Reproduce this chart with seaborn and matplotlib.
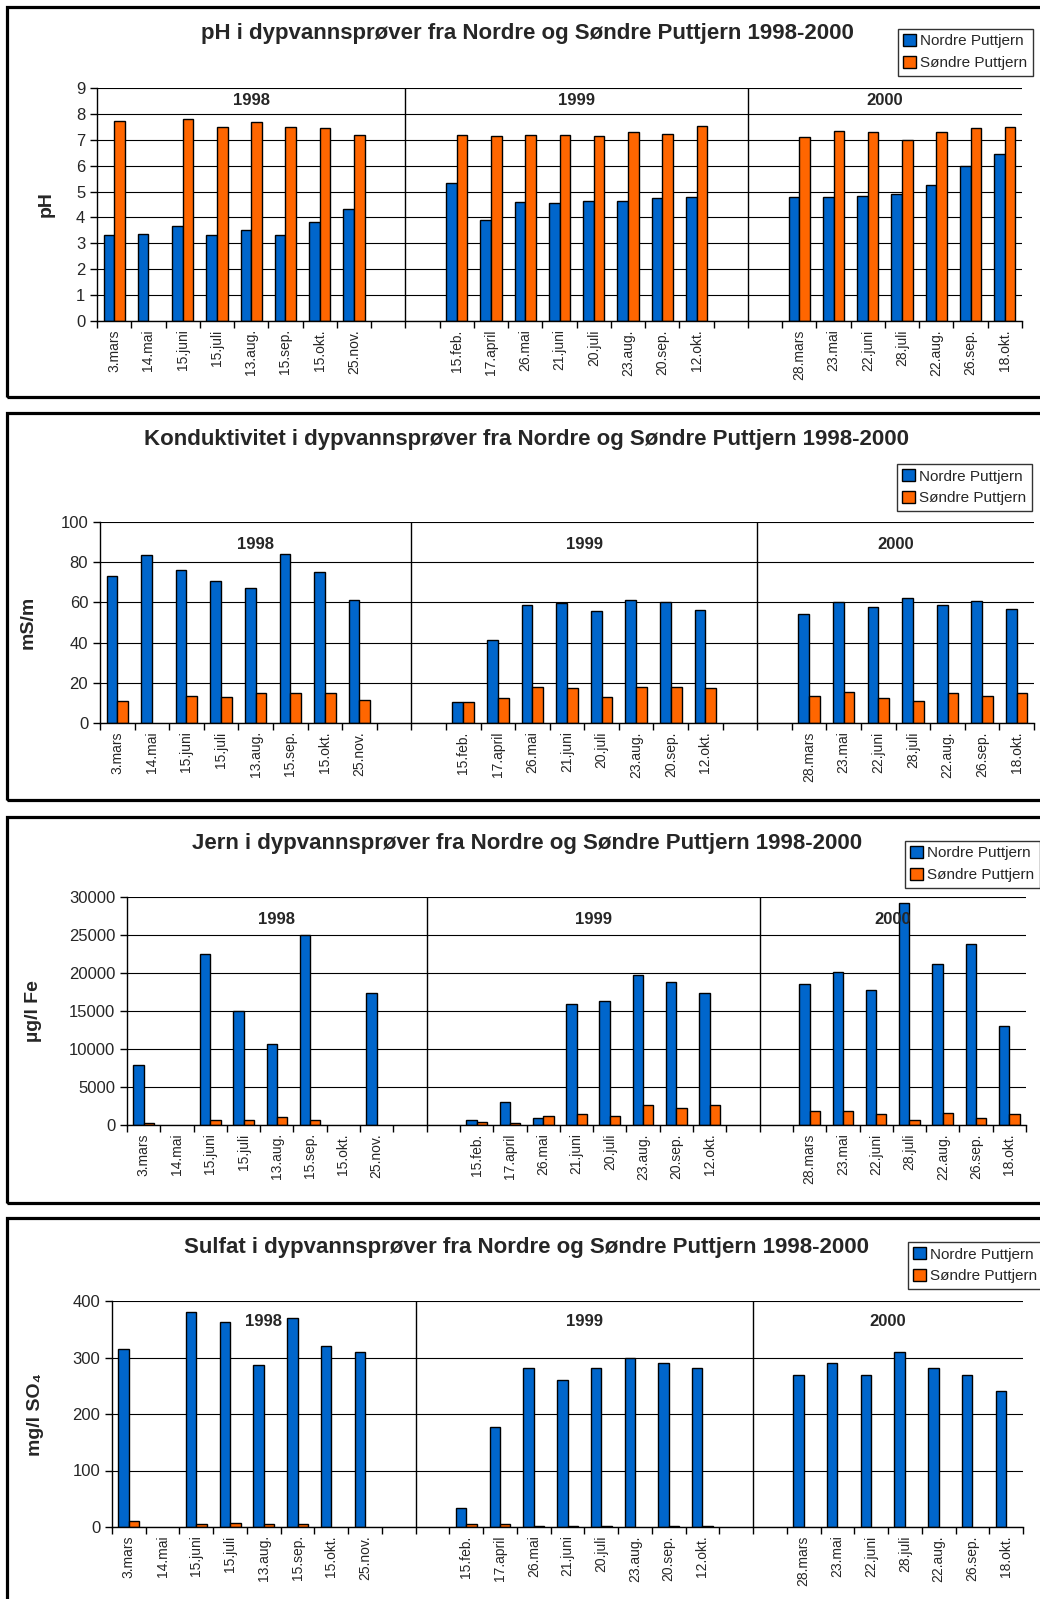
import numpy as np
import pandas as pd
import matplotlib.pyplot as plt
import seaborn as sns
from matplotlib.patches import Rectangle

# --- data ---
dates_1998 = ['3.mars', '14.mai', '15.juni', '15.juli', '13.aug.', '15.sep.', '15.okt.', '25.nov.']
dates_1999 = ['15.feb.', '17.april', '26.mai', '21.juni', '20.juli', '23.aug.', '20.sep.', '12.okt.']
dates_2000 = ['28.mars', '23.mai', '22.juni', '28.juli', '22.aug.', '26.sep.', '18.okt.']
years = ['1998', '1999', '2000']
lakes = ['Nordre Puttjern', 'Søndre Puttjern']
nan = np.nan

ph_nordre = [3.32, 3.36, 3.67, 3.32, 3.53, 3.32, 3.83, 4.33,
             5.33, 3.89, 4.59, 4.54, 4.64, 4.64, 4.74, 4.78,
             4.78, 4.78, 4.83, 4.90, 5.24, 5.99, 6.44]
ph_sondre = [7.74, nan, 7.80, 7.50, 7.69, 7.50, 7.45, 7.19,
             7.19, 7.14, 7.19, 7.19, 7.14, 7.29, 7.24, 7.55,
             7.10, 7.35, 7.29, 7.00, 7.29, 7.45, 7.50]

kond_nordre = [73.1, 83.4, 76.3, 70.5, 67.3, 84.1, 75.0, 61.4,
               10.3, 41.5, 58.9, 59.5, 55.6, 61.4, 60.2, 56.2,
               54.2, 60.2, 57.5, 62.0, 58.9, 60.7, 56.9]
kond_sondre = [10.9, nan, 13.6, 12.9, 14.9, 14.9, 14.9, 11.6,
               10.3, 12.3, 18.1, 17.4, 12.9, 18.1, 18.1, 17.4,
               13.6, 15.6, 12.3, 10.9, 14.9, 13.6, 14.9]

jern_nordre = [7900, nan, 22500, 15000, 10600, 25000, nan, 17350,
               660, 3070, 880, 15940, 16290, 19720, 18880, 17350,
               18530, 20070, 17700, 29170, 21250, 23840, 13040]
jern_sondre = [200, nan, 660, 660, 1010, 660, nan, nan,
               350, 200, 1190, 1410, 1190, 2590, 2240, 2590,
               1890, 1890, 1410, 660, 1540, 880, 1410]

sulfat_nordre = [315, nan, 380, 362, 286, 370, 320, 310,
                 34, 177, 281, 260, 281, 300, 290, 281,
                 269, 290, 269, 310, 281, 269, 240]
sulfat_sondre = [10, nan, 5, 7.5, 5, 5, nan, nan,
                 5, 5, 2, 2, 2, nan, 2, 2,
                 nan, nan, nan, nan, nan, nan, nan]

# --- layout helpers (pixels of a 1040x1599 canvas) ---
W, H = 1040, 1599
blue, orange = '#0066CC', '#FF6600'

dates = dates_1998 + dates_1999 + dates_2000
order = dates_1998 + [' ', '  '] + dates_1999 + ['   ', '    '] + dates_2000
tick_labels = [d.strip() for d in order]

sns.set_style('white')
plt.rcParams['font.family'] = ['Liberation Sans', 'DejaVu Sans']

fig = plt.figure(figsize=(W / 100, H / 100), dpi=100)

panels = [
    # title, ylabel, nordre, sondre, ymax, ystep, year label y,
    # axes box (l, t, r, b), ylabel x, legend corner, frame (top, bottom), title y
    ('pH i dypvannsprøver fra Nordre og Søndre Puttjern 1998-2000', 'pH',
     ph_nordre, ph_sondre, 9, 1, 8.5,
     (97, 88, 1022, 321), 46, (898, 29), (7, 397), 33),
    ('Konduktivitet i dypvannsprøver fra Nordre og Søndre Puttjern 1998-2000', 'mS/m',
     kond_nordre, kond_sondre, 100, 20, 89,
     (100, 522, 1034, 723), 28, (897, 464), (413, 800), 440),
    ('Jern i dypvannsprøver fra Nordre og Søndre Puttjern 1998-2000', 'µg/l Fe',
     jern_nordre, jern_sondre, 30000, 5000, 27000,
     (127, 897, 1026, 1125), 33, (905, 841), (817, 1203), 843),
    ('Sulfat i dypvannsprøver fra Nordre og Søndre Puttjern 1998-2000', 'mg/l SO₄',
     sulfat_nordre, sulfat_sondre, 400, 100, 363,
     (112, 1301, 1023, 1527), 36, (908, 1242), (1218, 1640), 1247),
]

for (title, ylabel, nordre, sondre, ymax, ystep, year_y,
     box, ylab_x, leg_xy, frame, title_y) in panels:
    # ramme rundt hvert diagram
    fig.add_artist(Rectangle((7 / W, 1 - frame[1] / H), 1.1, (frame[1] - frame[0]) / H,
                             transform=fig.transFigure, fill=False,
                             edgecolor='black', linewidth=2.3, zorder=0))

    l, t, r, b = box
    ax = fig.add_axes([l / W, 1 - b / H, (r - l) / W, (b - t) / H])

    df = pd.DataFrame({
        'dato': dates * 2,
        'sjø': [lakes[0]] * len(dates) + [lakes[1]] * len(dates),
        'verdi': list(nordre) + list(sondre),
    })
    sns.barplot(data=df, x='dato', y='verdi', hue='sjø', order=order, hue_order=lakes,
                palette=[blue, orange], saturation=1, width=0.62, edgecolor='black',
                linewidth=1, errorbar=None, ax=ax)

    ax.set_xlim(-0.5, len(order) - 0.5)
    ax.set_ylim(0, ymax)
    ax.set_yticks(np.arange(0, ymax + ystep / 2, ystep))
    ax.yaxis.grid(True, color='black', linewidth=0.8)
    ax.set_axisbelow(True)
    ax.tick_params(axis='y', labelsize=12, length=5, width=1, color='black', left=True)

    ax.set_xticks(np.arange(len(order) + 1) - 0.5)
    ax.set_xticklabels([])
    ax.set_xticks(np.arange(len(order)), minor=True)
    ax.set_xticklabels(tick_labels, minor=True, rotation=90, fontsize=10)
    ax.tick_params(axis='x', which='major', length=5, width=1, color='black', bottom=True)
    ax.tick_params(axis='x', which='minor', length=0, pad=6)

    for s in ['top', 'right']:
        ax.spines[s].set_visible(False)
    for s in ['left', 'bottom']:
        ax.spines[s].set_color('black')
        ax.spines[s].set_linewidth(1)

    # skille mellom årene
    ax.axvline(8.5, color='black', linewidth=1)
    ax.axvline(18.5, color='black', linewidth=1)
    for xpos, yr in zip([4, 13.5, 22.5], years):
        ax.text(xpos, year_y, yr, ha='center', va='center', fontsize=12, fontweight='bold')

    ax.set_xlabel('')
    ax.set_ylabel(ylabel, fontsize=14, fontweight='bold', va='center')
    ax.yaxis.set_label_coords((ylab_x - l) / (r - l), 0.5)

    fig.text(527 / W, 1 - title_y / H, title, ha='center', va='center',
             fontsize=16, fontweight='bold')

    handles, labels = ax.get_legend_handles_labels()
    ax.legend(handles, labels, loc='upper left',
              bbox_to_anchor=(leg_xy[0] / W, 1 - leg_xy[1] / H),
              bbox_transform=fig.transFigure, frameon=True, fancybox=False,
              edgecolor='black', fontsize=11, handlelength=0.8, handleheight=0.8,
              handletextpad=0.3, borderpad=0.35, labelspacing=0.5, borderaxespad=0)
    ax.get_legend().get_frame().set_linewidth(1)

plt.savefig('out.png', dpi=100)
